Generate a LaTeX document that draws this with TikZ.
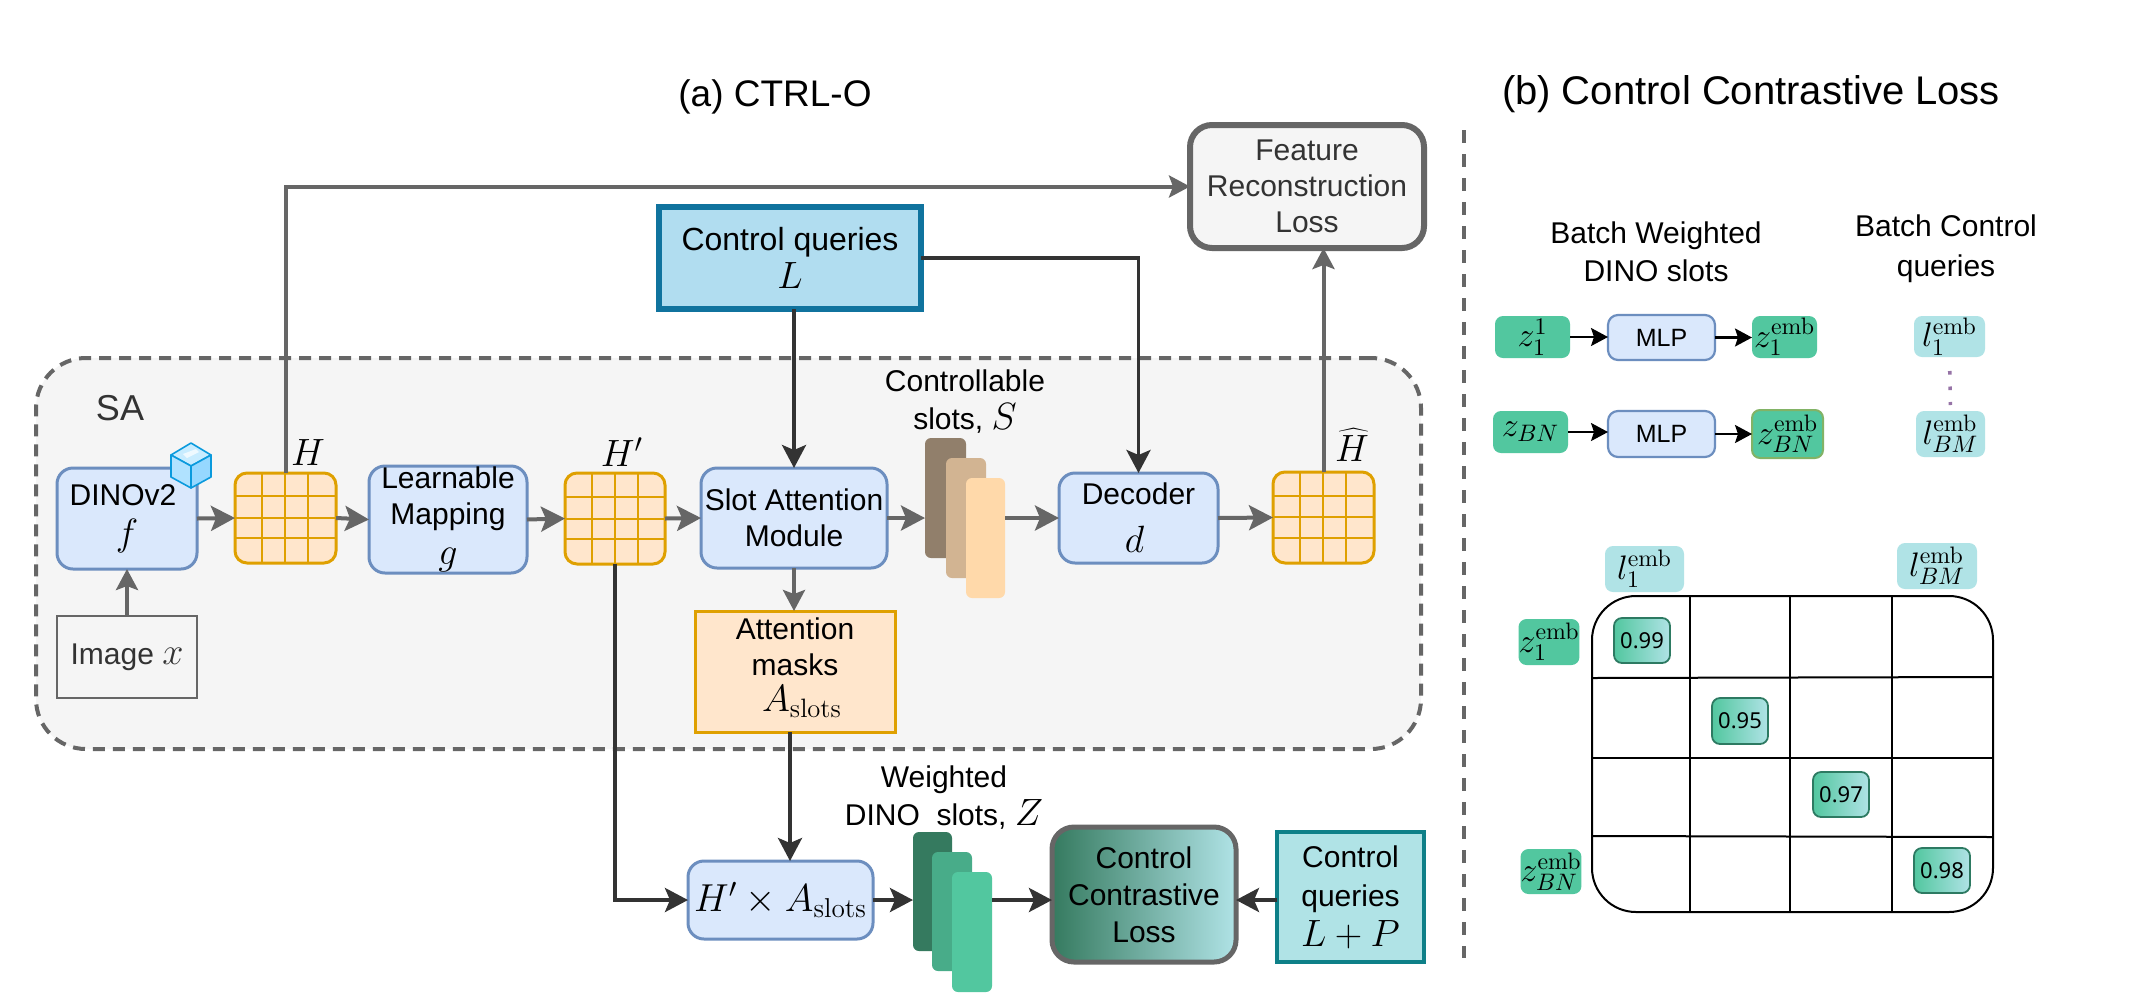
\RequirePackage{fix-cm}
\documentclass[tikz,border=0pt]{standalone}
\usepackage[no-math]{fontspec}
\setmainfont{Liberation Sans}
\newfontfamily\scorefont{Noto Sans}
\usetikzlibrary{arrows.meta,calc}
\definecolor{gArrow}{HTML}{666666}
\definecolor{dArrow}{HTML}{333333}
\definecolor{blueF}{HTML}{DAE8FC}
\definecolor{blueS}{HTML}{6C8EBF}
\definecolor{orF}{HTML}{FFE6CC}
\definecolor{orS}{HTML}{DFA000}
\definecolor{zGreen}{HTML}{52C79F}
\definecolor{zMid}{HTML}{48AC89}
\definecolor{zDark}{HTML}{357A5F}
\definecolor{lTeal}{HTML}{B0E3E6}
\definecolor{scoreS}{HTML}{2D7A62}
\newcommand{\tf}{\fontsize{15}{18}\selectfont}
\newcommand{\mf}{\fontsize{17}{18}\selectfont}
\newcommand{\mb}{\fontsize{19}{18}\selectfont}
\tikzset{
  box/.style={rectangle,inner sep=0pt,outer sep=0pt,align=center,font=\tf,text=black},
  bluebox/.style={box,draw=blueS,fill=blueF,line width=1.5pt,rounded corners=8pt},
  gridbox/.style={box,draw=orS,fill=orF,line width=1.5pt,rounded corners=6pt},
  gridline/.style={draw=orS,line width=1.3pt},
  txtlabel/.style={box},
  garrow/.style={draw=gArrow,line width=2pt,-{Stealth[length=12pt,width=12.5pt,inset=2.5pt]}},
  garrowthin/.style={draw=gArrow,line width=2pt,-{Stealth[length=10.5pt,width=11pt,inset=2pt]}},
  darrow/.style={draw=dArrow,line width=1.9pt,-{Stealth[length=11.5pt,width=12pt,inset=2.5pt]}},
  barrow/.style={draw=black,line width=1.1pt,-{Stealth[length=8.5pt,width=9pt,inset=1.5pt]}},
  slotbar/.style={box,rounded corners=3pt},
  zchip/.style={box,fill=zGreen,rounded corners=4pt,font=\mf},
  lchip/.style={box,fill=lTeal,rounded corners=4pt,font=\mf},
  scorebox/.style={box,draw=scoreS,line width=.9pt,left color=zGreen,right color=lTeal,rounded corners=4pt,font=\scorefont\fontsize{11}{12}\selectfont},
  cellline/.style={draw=black,line width=1pt},
}
\newcommand{\bx}[7][]{\node[box,#1,minimum width={(#5-#3)*.5pt},minimum height={(#6-#4)*.5pt}] (#2) at ({(#3+#5)/2},{(#4+#6)/2}) {#7};}
\newcommand{\gridnode}[5]{\bx[gridbox]{#1}{#2}{#3}{#4}{#5}{}}
\begin{document}
\begin{tikzpicture}[x=0.5pt,y=-0.5pt]
\useasboundingbox (0,0) rectangle (2142,992);
\fill[white] (0,0) rectangle (2142,992);

% titles
\node[txtlabel,font=\fontsize{18.5}{22}\selectfont] (titleA) at (775,97) {(a) CTRL-O};
\node[txtlabel,font=\fontsize{20}{24}\selectfont] (titleB) at (1751,94) {(b) Control Contrastive Loss};

% SA region
\bx[draw=gArrow,fill=black!4,line width=2pt,dash pattern=on 6pt off 4pt,rounded corners=25pt]{sa}{36}{358}{1421}{749}{}
\node[txtlabel,text=dArrow,font=\fontsize{18}{22}\selectfont] (saLabel) at (120,408) {SA};

% divider
\coordinate (divTop) at (1464,130);
\coordinate (divBot) at (1464,958);
\draw[draw=gArrow,line width=1.6pt,dash pattern=on 6.5pt off 5.5pt] (divTop) -- (divBot);

% boxes
\bx[bluebox]{dino}{57}{468}{197}{569}{\hspace*{-4pt}DINOv2\\[2pt]{\mb$f$}}
\bx[draw=gArrow,line width=1.3pt,text=dArrow]{img}{57}{616}{197}{698}{\raisebox{-1.5pt}{Image {\mb$x$}}}
\gridnode{gridH}{235}{473}{336}{563}
\bx[bluebox]{learn}{369}{466}{527}{573}{Learnable\\Mapping\\[2pt]{\mb$g$}}
\gridnode{gridHp}{565}{473}{665}{564}
\bx[bluebox]{slot}{701}{468}{887}{568}{Slot Attention\\Module}
\bx[draw=orS,fill=orF,line width=1.5pt]{attn}{695}{611}{895}{732}{Attention\\masks\\{\mb\hspace*{7pt}$A_{\mathrm{slots}}$\rule[-7pt]{0pt}{1pt}}}
\bx[slotbar,fill={rgb,255:red,145;green,127;blue,107}]{s1}{925}{438}{966}{558}{}
\bx[slotbar,fill={rgb,255:red,210;green,180;blue,146}]{s2}{946}{458}{986}{578}{}
\bx[slotbar,fill={rgb,255:red,255;green,217;blue,170}]{s3}{966}{478}{1005}{598}{}
\bx[bluebox]{dec}{1059}{473}{1218}{563}{Decoder\\[6pt]{\mb\hspace*{-4pt}$d$}}
\gridnode{gridHat}{1273}{472}{1374}{563}
\bx[draw=gArrow,fill=black!4,line width=3pt,rounded corners=11pt,text=dArrow]{frl}{1190}{125}{1424}{248}{Feature\\Reconstruction\\Loss}
\bx[draw={rgb,255:red,16;green,115;blue,158},fill={rgb,255:red,177;green,221;blue,240},line width=2.7pt]{ctl}{659}{207}{921}{309}{\fontsize{16}{18}\selectfont Control queries\\[1pt]{\mb$L$}}

\bx[bluebox]{hxa}{688}{861}{873}{939}{\fontsize{19.5}{18}\selectfont$H'\times A_{\mathrm{slots}}$}
\bx[slotbar,fill=zDark]{z1}{913}{832}{952}{951}{}
\bx[slotbar,fill=zMid]{z2}{932}{852}{972}{971}{}
\bx[slotbar,fill=zGreen]{z3}{952}{872}{992}{992}{}
\bx[draw=gArrow,line width=2.5pt,rounded corners=11pt,left color=zDark,right color=lTeal]{ccl}{1052}{827}{1236}{962}{Control\\[.5pt]Contrastive\\[.5pt]Loss}
\bx[draw={rgb,255:red,14;green,128;blue,136},fill=lTeal,line width=2.2pt]{lp}{1277}{832}{1424}{962}{Control\\[1.5pt]queries\\[2pt]{\mb$L+P$}}

% floating labels
\node[txtlabel] (lblH) at (308,453) {\mb$H$};
\node[txtlabel] (lblHp) at (622,452) {\mb$H'$};
\node[txtlabel] (lblHat) at (1352,445) {\mb$\widehat{H}$};
\node[txtlabel] (lblS) at (965,402) {Controllable\\[1pt]slots, {\mb$S$}};
\node[txtlabel] (lblZ) at (944,798) {Weighted\\[1pt]DINO\ \ slots, {\mb$Z$}};

% grids' inner lines
\foreach \vx in {262,285,308} \draw[gridline] (\vx,473) -- (\vx,563);
\foreach \hy in {496,518,538} \draw[gridline] (235,\hy) -- (336,\hy);
\foreach \vx in {592,615,638} \draw[gridline] (\vx,473) -- (\vx,564);
\foreach \hy in {497,519,539} \draw[gridline] (565,\hy) -- (665,\hy);
\foreach \vx in {1300,1323,1346} \draw[gridline] (\vx,472) -- (\vx,563);
\foreach \hy in {496,517,538} \draw[gridline] (1273,\hy) -- (1374,\hy);

% ice cube
\begin{scope}[draw={rgb,255:red,10;green,154;blue,221},line width=.8pt,line join=round]
\filldraw[fill={rgb,255:red,200;green,236;blue,255}] (191,443) -- (211,455) -- (191,466) -- (171,455) -- cycle;
\filldraw[fill={rgb,255:red,176;green,226;blue,255}] (171,455) -- (191,466) -- (191,488) -- (171,477) -- cycle;
\filldraw[fill={rgb,255:red,150;green,216;blue,255}] (211,455) -- (191,466) -- (191,488) -- (211,477) -- cycle;
\end{scope}
\fill[white,opacity=.7] (183,454) -- (196,449) -- (199,452) -- (187,458) -- cycle;

% connectors (a)
\draw[garrow] (dino.east) -- (gridH.west);
\draw[garrow] (gridH.east) -- (learn.west);
\draw[garrow] (learn.east) -- (gridHp.west);
\draw[garrow] (gridHp.east) -- (slot.west);
\draw[garrow] (slot.east) -- (slot.east -| s1.west);
\draw[garrow] (dec.west -| s3.east) -- (dec.west);
\draw[garrow] (dec.east) -- (gridHat.west);
\draw[garrowthin] (img.north) -- (dino.south);
\draw[garrowthin] (slot.south) -- (slot.south |- attn.north);
\draw[garrowthin] (gridH.north) |- (frl.west);
\draw[garrowthin] (gridHat.north) -- (gridHat.north |- frl.south);
\draw[darrow] (slot.north |- ctl.south) -- (slot.north);
\draw[darrow] (ctl.east) -| (dec.north);
\draw[darrow] (gridHp.south) |- (hxa.west);
\draw[darrow] ([xshift=-2.5pt]attn.south) -- ([xshift=-2.5pt]attn.south |- hxa.north);
\draw[darrow] (hxa.east) -- (hxa.east -| z1.west);
\draw[darrow] (hxa.east -| z3.east) -- (hxa.east -| ccl.west);
\draw[darrow] (hxa.east -| lp.west) -- (hxa.east -| ccl.east);

% (b) headers
\node[txtlabel] (hdW) at (1656,252) {Batch Weighted\\[1pt]DINO slots};
\node[txtlabel] (hdC) at (1946,249) {Batch Control\\[2pt]queries};

% (b) chips
\bx[zchip]{za}{1495}{316}{1570}{358}{$z_1^{1}$}
\bx[bluebox,rounded corners=5pt,line width=1.1pt,font=\fontsize{12.5}{14}\selectfont]{mlpa}{1608}{315}{1715}{360}{MLP}
\bx[zchip]{zae}{1752}{316}{1817}{358}{$z_1^{\mathrm{emb}}$}
\bx[lchip]{la}{1914}{316}{1985}{357}{$l_1^{\mathrm{emb}}$}
\bx[zchip]{zb}{1493}{411}{1568}{453}{$z_{BN}$}
\bx[bluebox,rounded corners=5pt,line width=1.1pt,font=\fontsize{12.5}{14}\selectfont]{mlpb}{1608}{411}{1715}{457}{MLP}
\bx[zchip,draw={rgb,255:red,130;green,179;blue,102},line width=1pt]{zbe}{1752}{410}{1823}{458}{$z_{BN}^{\mathrm{emb}}$}
\bx[lchip]{lb}{1916}{411}{1985}{457}{$l_{BM}^{\mathrm{emb}}$}
\draw[barrow] (za.east) -- (za.east -| mlpa.west);
\draw[barrow] (mlpa.east) -- (mlpa.east -| zae.west);
\draw[barrow] (zb.east) -- (zb.east -| mlpb.west);
\draw[barrow] (mlpb.east) -- (zbe.west);
\draw[draw={rgb,255:red,150;green,115;blue,166},line width=1.8pt,dash pattern=on 1.8pt off 5.95pt,shorten >=3pt,shorten <=7pt] (la.south) -- (lb.north);

% matrix
\bx[draw=black,line width=1pt,rounded corners=22pt,fill=white]{mat}{1592}{596}{1993}{912}{}
\foreach \vx in {1690,1790,1892} \draw[cellline] (\vx,596) -- (\vx,912);
\draw[cellline] (1592,678) -- (1993,677);
\draw[cellline] (1592,758) -- (1993,758);
\draw[cellline] (1592,836) -- (1993,837);
\bx[lchip]{mla}{1605}{546}{1684}{592}{$l_1^{\mathrm{emb}}$}
\bx[lchip]{mlb}{1897}{543}{1977}{589}{$l_{BM}^{\mathrm{emb}}$}
\bx[zchip]{mza}{1519}{619}{1579}{665}{$z_1^{\mathrm{emb}}$}
\bx[zchip]{mzb}{1521}{849}{1581}{894}{$z_{BN}^{\mathrm{emb}}$}
\bx[scorebox]{sa1}{1614}{618}{1670}{663}{0.99}
\bx[scorebox]{sa2}{1712}{698}{1768}{744}{0.95}
\bx[scorebox]{sa3}{1813}{772}{1869}{817}{0.97}
\bx[scorebox]{sa4}{1914}{848}{1970}{893}{0.98}
\end{tikzpicture}
\end{document}
